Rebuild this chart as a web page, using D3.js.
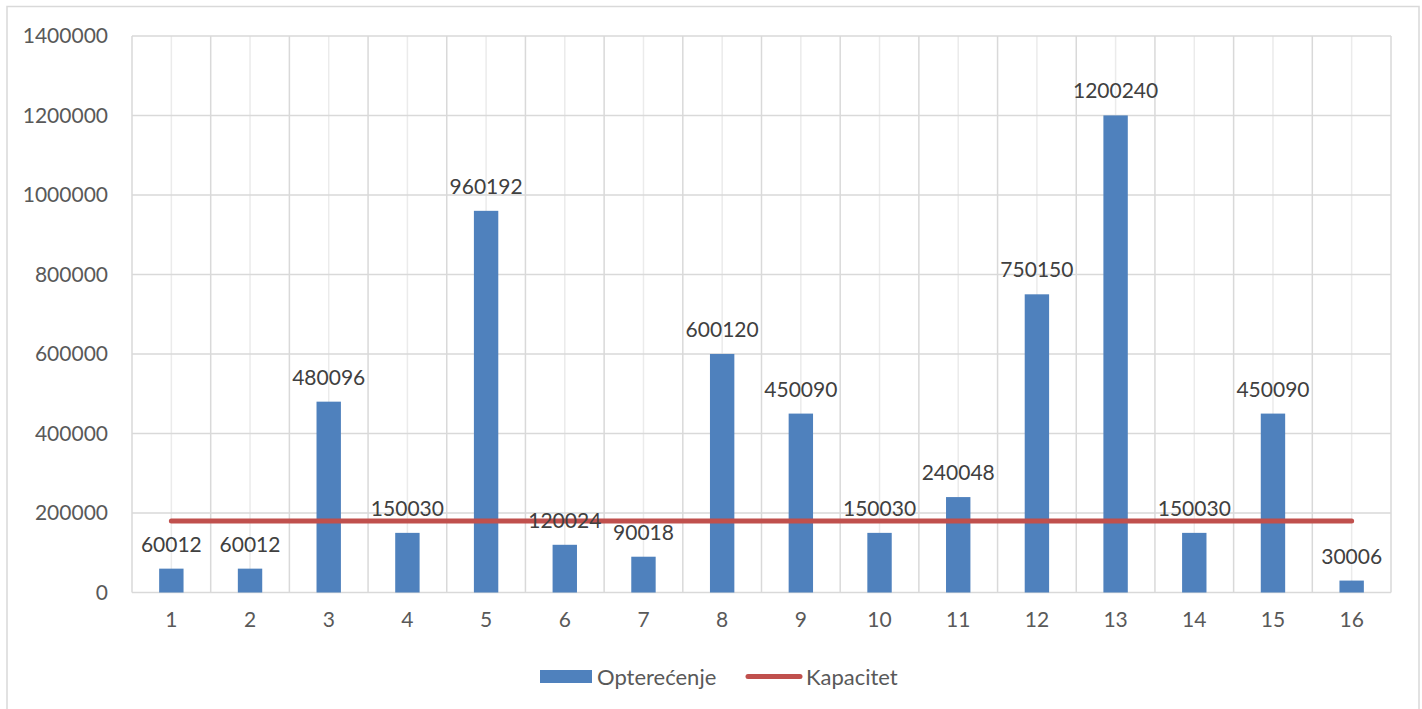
<!DOCTYPE html>
<html>
<head>
<meta charset="utf-8">
<script src="https://cdn.jsdelivr.net/npm/d3@7"></script>
<style>
  html, body { margin: 0; padding: 0; background: #fff; }
  svg { display: block; }
  text { font-family: Lato, "Open Sans", sans-serif; }
</style>
</head>
<body>
<svg id="chart" width="1422" height="709"></svg>
<script>
// Categories (node numbers) and series
const categories = ["1","2","3","4","5","6","7","8","9","10","11","12","13","14","15","16"];
const loadValues = [60012, 60012, 480096, 150030, 960192, 120024, 90018, 600120, 450090, 150030, 240048, 750150, 1200240, 150030, 450090, 30006];
const capacityValues = [180000, 180000, 180000, 180000, 180000, 180000, 180000, 180000, 180000, 180000, 180000, 180000, 180000, 180000, 180000, 180000];
const yTicks = [0, 200000, 400000, 600000, 800000, 1000000, 1200000, 1400000];
const seriesNames = ["Opterećenje", "Kapacitet"];

const barColor = "#4f81bd";
const lineColor = "#c0504d";
const gridColor = "#d9d9d9";
const textColor = "#595959";
const labelColor = "#404040";
const fontSize = 21;

const svg = d3.select("#chart");

// Outer chart frame (bottom edge runs past the view)
svg.append("rect")
  .attr("x", 7).attr("y", 6.5)
  .attr("width", 1412).attr("height", 720)
  .attr("fill", "#fff")
  .attr("stroke", "#d9d9d9").attr("stroke-width", 1.5);

const plot = { left: 132, right: 1391, top: 36, bottom: 592.5 };

const x = d3.scaleBand().domain(categories).range([plot.left, plot.right]).paddingInner(0).paddingOuter(0);
const y = d3.scaleLinear().domain([0, 1400000]).range([plot.bottom, plot.top]);

const g = svg.append("g");

// Vertical grid: light line at each category centre, darker at boundaries
g.append("g").selectAll("line.c")
  .data(categories).join("line")
  .attr("x1", d => x(d) + x.bandwidth() / 2).attr("x2", d => x(d) + x.bandwidth() / 2)
  .attr("y1", plot.top).attr("y2", plot.bottom)
  .attr("stroke", "#ebebeb").attr("stroke-width", 1.5);

g.append("g").selectAll("line.b")
  .data(categories.concat(["end"])).join("line")
  .attr("x1", (d, i) => plot.left + i * x.bandwidth()).attr("x2", (d, i) => plot.left + i * x.bandwidth())
  .attr("y1", plot.top).attr("y2", plot.bottom)
  .attr("stroke", gridColor).attr("stroke-width", 1.5);

// Horizontal grid
g.append("g").selectAll("line.h")
  .data(yTicks).join("line")
  .attr("x1", plot.left).attr("x2", plot.right)
  .attr("y1", d => y(d)).attr("y2", d => y(d))
  .attr("stroke", gridColor).attr("stroke-width", 1.5);

// Y axis labels
const yAxis = d3.axisLeft(y).tickValues(yTicks).tickSize(0).tickPadding(24).tickFormat(d3.format("d"));
const ya = svg.append("g").attr("transform", `translate(${plot.left},0)`).call(yAxis);
ya.select(".domain").remove();
ya.selectAll("text").attr("fill", textColor).attr("font-size", fontSize).attr("font-family", "Lato, sans-serif");

// X axis labels
const xAxis = d3.axisBottom(x).tickSize(0).tickPadding(20);
const xa = svg.append("g").attr("transform", `translate(0,${plot.bottom})`).call(xAxis);
xa.select(".domain").remove();
xa.selectAll("text").attr("fill", textColor).attr("font-size", fontSize).attr("font-family", "Lato, sans-serif");

// Bars
const barW = x.bandwidth() * 0.31;
g.append("g").selectAll("rect")
  .data(loadValues).join("rect")
  .attr("x", (d, i) => x(categories[i]) + x.bandwidth() / 2 - barW / 2)
  .attr("y", d => y(d))
  .attr("width", barW)
  .attr("height", d => y(0) - y(d))
  .attr("fill", barColor);

// Capacity line
const line = d3.line()
  .x((d, i) => x(categories[i]) + x.bandwidth() / 2)
  .y(d => y(d));
g.append("path")
  .datum(capacityValues)
  .attr("d", line)
  .attr("fill", "none")
  .attr("stroke", lineColor)
  .attr("stroke-width", 5)
  .attr("stroke-linecap", "round");

// Value labels
g.append("g").selectAll("text")
  .data(loadValues).join("text")
  .attr("x", (d, i) => x(categories[i]) + x.bandwidth() / 2)
  .attr("y", d => y(d) - 17)
  .attr("text-anchor", "middle")
  .attr("font-size", fontSize)
  .attr("fill", labelColor)
  .text(d => d);

// Legend
const lg = svg.append("g");
lg.append("rect").attr("x", 540).attr("y", 670).attr("width", 52).attr("height", 13).attr("fill", barColor);
lg.append("text").attr("x", 597).attr("y", 676.5).attr("dominant-baseline", "central")
  .attr("font-size", 22).attr("fill", textColor).text(seriesNames[0]);
lg.append("line").attr("x1", 748).attr("x2", 800).attr("y1", 676.5).attr("y2", 676.5)
  .attr("stroke", lineColor).attr("stroke-width", 5).attr("stroke-linecap", "round");
lg.append("text").attr("x", 806).attr("y", 676.5).attr("dominant-baseline", "central")
  .attr("font-size", 22).attr("fill", textColor).text(seriesNames[1]);
</script>
</body>
</html>
